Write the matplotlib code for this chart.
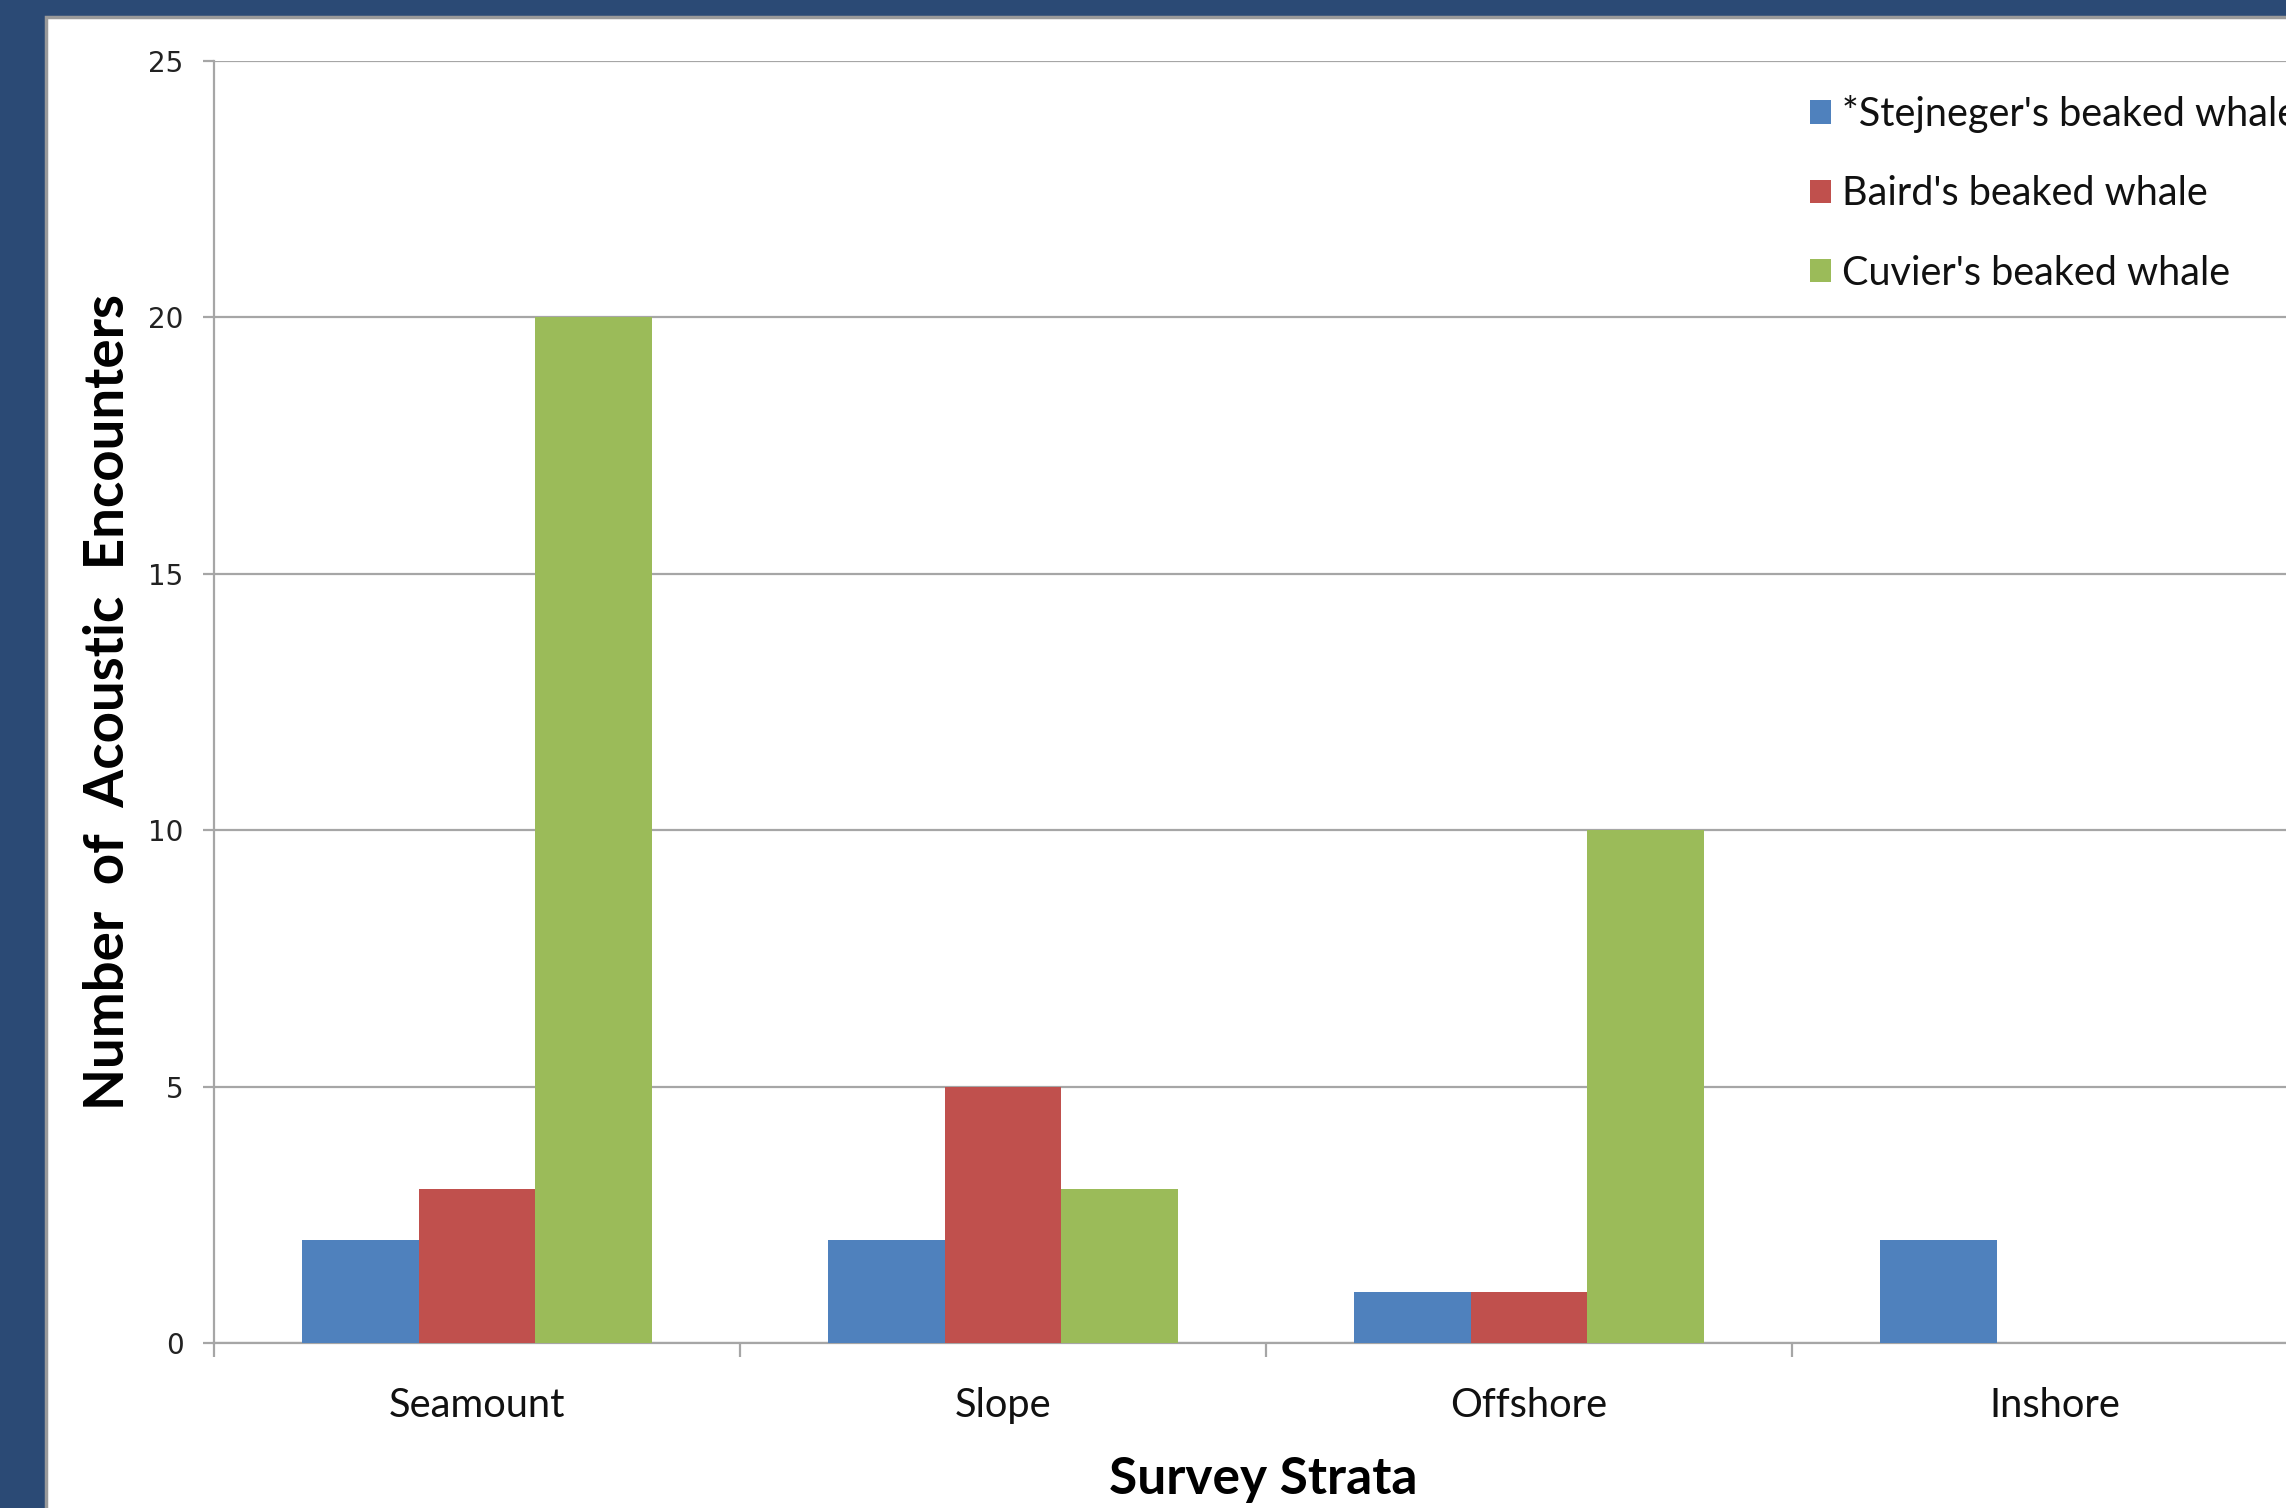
import matplotlib
matplotlib.use("Agg")
import matplotlib.pyplot as plt
import numpy as np
from matplotlib.patches import Rectangle

categories = ["Seamount", "Slope", "Offshore", "Inshore"]
series_names = ["*Stejneger's beaked whale", "Baird's beaked whale", "Cuvier's beaked whale"]
stejneger = [2, 2, 1, 2]
bairds = [3, 5, 1, 0]
cuviers = [20, 3, 10, 0]
series_values = [stejneger, bairds, cuviers]
colors = ["#4F81BD", "#C0504D", "#9BBB59"]
yticks = [0, 5, 10, 15, 20, 25]

W, H = 2286, 1508
fig = plt.figure(figsize=(W / 100, H / 100), dpi=100)
fig.patch.set_facecolor("#2B4A75")
# white slide area with gray edge
fig.patches.append(Rectangle((46 / W, -0.1), 1.2, 1.1 - 17 / H, transform=fig.transFigure,
                             facecolor="white", edgecolor="#9A9A9A", linewidth=2.5, zorder=-10))

ax = fig.add_axes([214 / W, 165 / H, 2104 / W, 1282 / H])
ax.set_facecolor("none")

x = np.arange(len(categories))
bw = 1 / 4.5
for i, (vals, name, c) in enumerate(zip(series_values, series_names, colors)):
    ax.bar(x + (i - 1) * bw, vals, width=bw, color=c, label=name, zorder=3)

ax.set_xlim(-0.5, len(categories) - 0.5)
ax.set_ylim(0, 25)
ax.set_yticks(yticks)
ax.set_yticklabels([str(v) for v in yticks], fontfamily="DejaVu Sans", fontsize=20, color="#222222")
ax.yaxis.grid(True, color="#A6A6A6", linewidth=1.6, zorder=0)
ax.set_axisbelow(True)

ax.set_xticks(np.arange(-0.5, len(categories)), minor=False)
ax.set_xticklabels([])
ax.set_xticks(x, minor=True)
ax.set_xticklabels(categories, minor=True, fontfamily="Lato", fontsize=28.7, color="#111111")
ax.tick_params(axis="x", which="major", length=10, width=1.6, color="#A6A6A6", direction="out")
ax.tick_params(axis="x", which="minor", length=0, pad=32)
ax.tick_params(axis="y", which="major", length=8, width=1.6, color="#A6A6A6", direction="out", pad=14)

for s in ["top", "right"]:
    ax.spines[s].set_visible(False)
for s in ["left", "bottom"]:
    ax.spines[s].set_color("#A6A6A6")
    ax.spines[s].set_linewidth(1.6)

ax.set_ylabel("Number  of  Acoustic  Encounters", fontfamily="Lato", fontweight="bold", fontsize=39.3)
ax.yaxis.set_label_coords(-0.0505, 0.5)
ax.yaxis.label.set_va("center")
ax.set_xlabel("Survey Strata", fontfamily="Lato", fontweight="bold", fontsize=37)
ax.xaxis.set_label_coords(0.4986, -0.1065)
ax.xaxis.label.set_va("center")

leg = ax.legend(loc="upper left", bbox_to_anchor=(1810 / W, 1 - 95 / H), bbox_transform=fig.transFigure,
                frameon=False, prop={"family": "Lato", "size": 28.5}, handlelength=0.53, handleheight=0.53,
                handletextpad=0.28, labelspacing=1.07, borderaxespad=0, borderpad=0)
for t in leg.get_texts():
    t.set_color("#111111")

fig.savefig("out.png", dpi=100)
